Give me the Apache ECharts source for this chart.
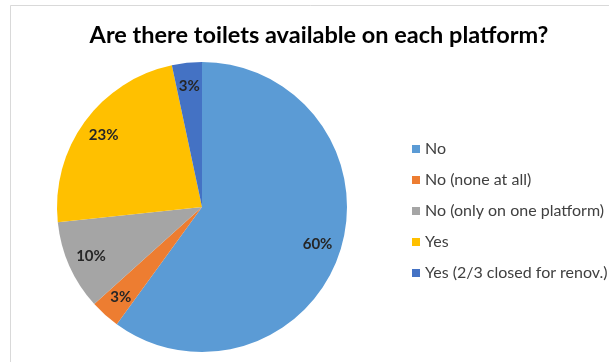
<!DOCTYPE html>
<html>
<head>
<meta charset="utf-8">
<script src="https://cdn.jsdelivr.net/npm/echarts@6/dist/echarts.min.js"></script>
<style>
  html, body { margin: 0; padding: 0; background: #ffffff; }
  #chart { width: 609px; height: 362px; }
</style>
</head>
<body>
<div id="chart"></div>
<script>
// Survey answers (number of stations per answer)
const categories = [
  'No',
  'No (none at all)',
  'No (only on one platform)',
  'Yes',
  'Yes (2/3 closed for renov.)'
];
const counts = [18, 1, 3, 7, 1];
const colors = ['#5B9BD5', '#ED7D31', '#A5A5A5', '#FFC000', '#4472C4'];

const chartTitle = 'Are there toilets available on each platform?';

const pieData = categories.map((name, i) => ({
  name: name,
  value: counts[i],
  itemStyle: { color: colors[i] }
}));

const chart = echarts.init(document.getElementById('chart'), null, { renderer: 'canvas' });

const center = [202, 207];

chart.setOption({
  animation: false,
  backgroundColor: '#ffffff',
  title: {
    text: chartTitle,
    left: 314,
    textAlign: 'center',
    top: 18,
    textStyle: {
      fontFamily: 'Lato',
      fontWeight: 'bold',
      fontSize: 23.5,
      color: '#000000'
    }
  },
  legend: {
    orient: 'vertical',
    left: 407,
    top: 136,
    itemWidth: 8,
    itemHeight: 8,
    itemGap: 15,
    icon: 'rect',
    textStyle: {
      fontFamily: 'Lato',
      fontSize: 16,
      color: '#404040'
    },
    data: categories.map((name, i) => ({ name: name, itemStyle: { color: colors[i] } }))
  },
  graphic: [{
    type: 'rect',
    shape: { x: 10.5, y: 5.5, width: 700, height: 500 },
    style: { fill: 'none', stroke: '#d9d9d9', lineWidth: 1 },
    silent: true,
    z: -1
  }],
  series: [
    {
      // the pie slices
      type: 'pie',
      center: center,
      radius: [0, 145],
      startAngle: 90,
      clockwise: true,
      silent: true,
      label: { show: false },
      labelLine: { show: false },
      data: pieData
    },
    {
      // percentage labels, placed in the outer ring of the pie
      type: 'pie',
      center: center,
      radius: [92, 145],
      startAngle: 90,
      clockwise: true,
      silent: true,
      legendHoverLink: false,
      itemStyle: { color: 'rgba(0,0,0,0)' },
      label: {
        show: true,
        position: 'inside',
        formatter: (p) => Math.round(p.percent) + '%',
        fontFamily: 'Lato',
        fontWeight: 'bold',
        fontSize: 15,
        color: '#262626'
      },
      labelLine: { show: false },
      data: categories.map((name, i) => ({ name: name, value: counts[i] }))
    }
  ]
});
</script>
</body>
</html>
